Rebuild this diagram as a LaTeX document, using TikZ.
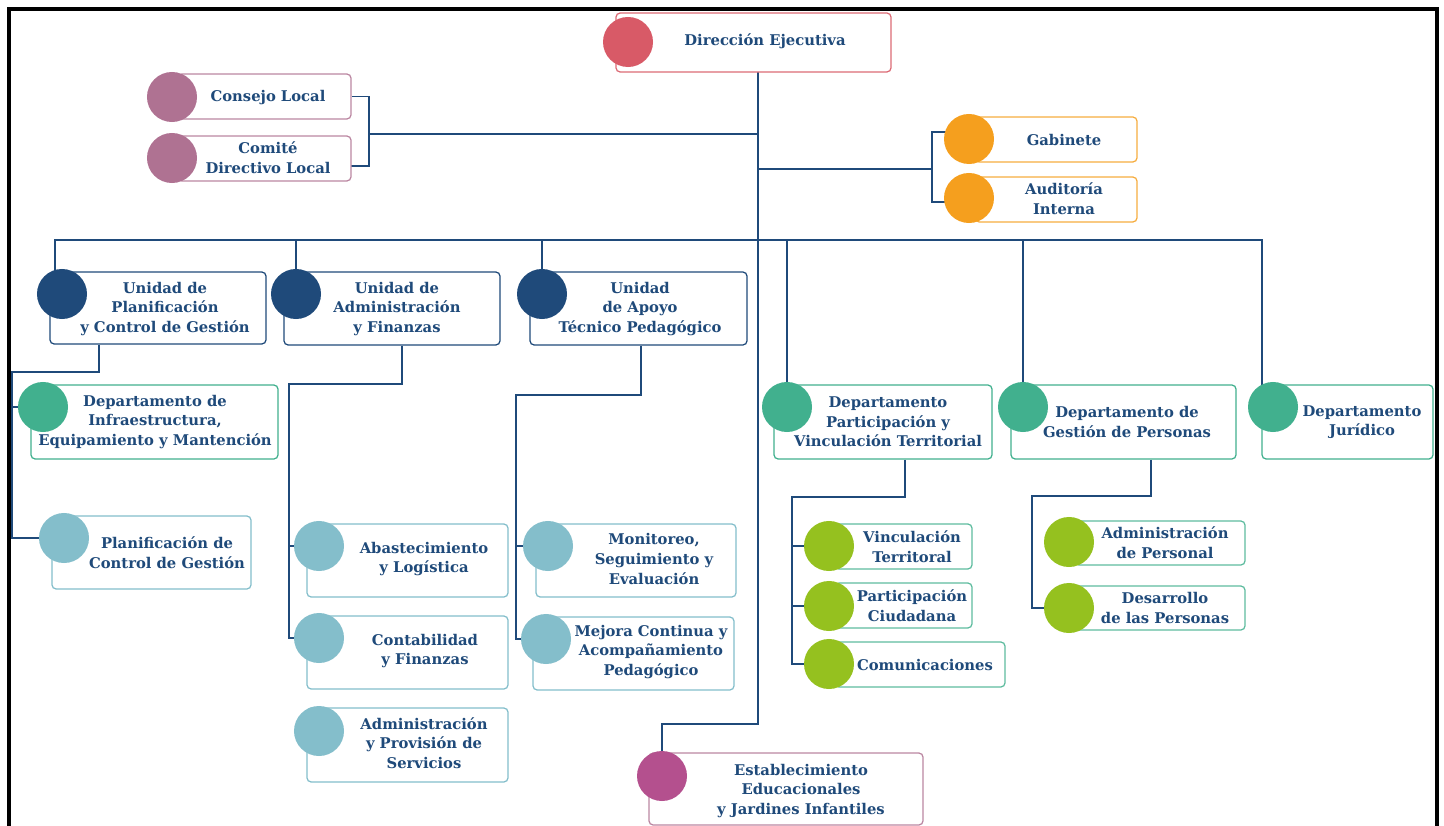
\documentclass[tikz,border=0pt]{standalone}
\usepackage{fontspec}
\setmainfont{DejaVu Serif}
\usetikzlibrary{backgrounds}

\definecolor{navy}{HTML}{1F4A7A}
\definecolor{rojo}{HTML}{D85A67}
\definecolor{malva}{HTML}{AF7292}
\definecolor{naranja}{HTML}{F59F1E}
\definecolor{verde}{HTML}{41B08E}
\definecolor{celeste}{HTML}{84BECB}
\definecolor{lima}{HTML}{95C11F}
\definecolor{fucsia}{HTML}{B4508E}

\tikzset{
  link/.style={draw=navy,line width=1.3pt},
  unit/.style={draw=#1,fill=white,rounded corners=3pt,line width=0.9pt,inner sep=0pt},
  dot/.style={circle,fill=#1,minimum size=1.25cm,inner sep=0pt},
  txt/.style={text=navy,align=center,inner sep=0pt,font=\fontsize{10.5}{14}\selectfont\bfseries}
}

\begin{document}
\begin{tikzpicture}[x=0.025cm,y=-0.025cm]
\useasboundingbox (0,0) rectangle (1444,826);

% frame
\draw [black,line width=2.8pt] (8.7,826) -- (8.7,9.2) -- (1437,9.2) -- (1437,826);

% boxes
\node (dir) [unit=rojo!90,minimum width=6.875cm,minimum height=1.475cm] at (753.5,42.5) {};
\node (cons) [unit=malva!85,minimum width=4.325cm,minimum height=1.125cm] at (264.5,96.5) {};
\node (comi) [unit=malva!85,minimum width=4.325cm,minimum height=1.125cm] at (264.5,158.5) {};
\node (gab) [unit=naranja!85,minimum width=4.05cm,minimum height=1.125cm] at (1056,139.5) {};
\node (aud) [unit=naranja!85,minimum width=4.05cm,minimum height=1.125cm] at (1056,199.5) {};
\node (upc) [unit=navy,minimum width=5.4cm,minimum height=1.8cm] at (158,308) {};
\node (uaf) [unit=navy,minimum width=5.4cm,minimum height=1.825cm] at (392,308.5) {};
\node (uatp) [unit=navy,minimum width=5.425cm,minimum height=1.825cm] at (638.5,308.5) {};
\node (dinf) [unit=verde,minimum width=6.175cm,minimum height=1.85cm] at (154.5,422) {};
\node (dpvt) [unit=verde,minimum width=5.45cm,minimum height=1.85cm] at (883,422) {};
\node (dgp) [unit=verde,minimum width=5.625cm,minimum height=1.85cm] at (1123.5,422) {};
\node (djur) [unit=verde,minimum width=4.275cm,minimum height=1.85cm] at (1347.5,422) {};
\node (pcg) [unit=celeste,minimum width=4.975cm,minimum height=1.825cm] at (151.5,552.5) {};
\node (abas) [unit=celeste,minimum width=5.025cm,minimum height=1.825cm] at (407.5,560.5) {};
\node (cont) [unit=celeste,minimum width=5.025cm,minimum height=1.825cm] at (407.5,652.5) {};
\node (aprov) [unit=celeste,minimum width=5.025cm,minimum height=1.85cm] at (407.5,745) {};
\node (mon) [unit=celeste,minimum width=5cm,minimum height=1.825cm] at (636,560.5) {};
\node (mej) [unit=celeste,minimum width=5.025cm,minimum height=1.825cm] at (633.5,653.5) {};
\node (vin) [unit=verde!85,minimum width=3.425cm,minimum height=1.125cm] at (903.5,546.5) {};
\node (par) [unit=verde!85,minimum width=3.425cm,minimum height=1.125cm] at (903.5,605.5) {};
\node (com) [unit=verde!85,minimum width=4.25cm,minimum height=1.125cm] at (920,664.5) {};
\node (adp) [unit=verde!85,minimum width=4.25cm,minimum height=1.1cm] at (1160,543) {};
\node (dlp) [unit=verde!85,minimum width=4.25cm,minimum height=1.1cm] at (1160,608) {};
\node (est) [unit=malva!85,minimum width=6.85cm,minimum height=1.8cm] at (786,789) {};

% circles
\node (dirC) [dot=rojo] at (628,42) {};
\node (consC) [dot=malva] at (172,97) {};
\node (comiC) [dot=malva] at (172,158) {};
\node (gabC) [dot=naranja] at (969,139) {};
\node (audC) [dot=naranja] at (969,198) {};
\node (upcC) [dot=navy] at (62,294) {};
\node (uafC) [dot=navy] at (296,294) {};
\node (uatpC) [dot=navy] at (542,294) {};
\node (dinfC) [dot=verde] at (43,407) {};
\node (dpvtC) [dot=verde] at (787,407) {};
\node (dgpC) [dot=verde] at (1023,407) {};
\node (djurC) [dot=verde] at (1273,407) {};
\node (pcgC) [dot=celeste] at (64,538) {};
\node (abasC) [dot=celeste] at (319,546) {};
\node (contC) [dot=celeste] at (319,638) {};
\node (aprovC) [dot=celeste] at (319,731) {};
\node (monC) [dot=celeste] at (548,546) {};
\node (mejC) [dot=celeste] at (546,639) {};
\node (vinC) [dot=lima] at (829,546) {};
\node (parC) [dot=lima] at (829,606) {};
\node (comC) [dot=lima] at (829,664) {};
\node (adpC) [dot=lima] at (1069,542) {};
\node (dlpC) [dot=lima] at (1069,608) {};
\node (estC) [dot=fucsia] at (662,776) {};

% texts
\node (dirT) [txt] at (765,41) {Dirección Ejecutiva};
\node (consT) [txt] at (268,98) {Consejo Local};
\node (comiT) [txt] at (268,158) {Comité\\Directivo Local};
\node (gabT) [txt] at (1064,140) {Gabinete};
\node (audT) [txt] at (1064,199) {Auditoría\\Interna};
\node (upcT) [txt] at (165,309) {Unidad de\\Planificación\\y Control de Gestión};
\node (uafT) [txt] at (397,309) {Unidad de\\Administración\\y Finanzas};
\node (uatpT) [txt] at (640,309) {Unidad\\de Apoyo\\Técnico Pedagógico};
\node (dinfT) [txt] at (155,422) {Departamento de\\Infraestructura,\\Equipamiento y Mantención};
\node (dpvtT) [txt] at (888,422) {Departamento\\Participación y\\Vinculación Territorial};
\node (dgpT) [txt] at (1127,422) {Departamento de\\Gestión de Personas};
\node (djurT) [txt] at (1362,422) {Departamento\\Jurídico};
\node (pcgT) [txt] at (167,553) {Planificación de\\Control de Gestión};
\node (abasT) [txt] at (424,559) {Abastecimiento\\y Logística};
\node (contT) [txt] at (425,651) {Contabilidad\\y Finanzas};
\node (aprovT) [txt] at (424,743) {Administración\\y Provisión de\\Servicios};
\node (monT) [txt] at (654,559) {Monitoreo,\\Seguimiento y\\Evaluación};
\node (mejT) [txt] at (651,652) {Mejora Continua y\\Acompañamiento\\Pedagógico};
\node (vinT) [txt] at (912,547) {Vinculación\\Territoral};
\node (parT) [txt] at (912,606) {Participación\\Ciudadana};
\node (comT) [txt] at (925,665) {Comunicaciones};
\node (adpT) [txt] at (1165,543) {Administración\\de Personal};
\node (dlpT) [txt] at (1165,608) {Desarrollo\\de las Personas};
\node (estT) [txt] at (801,791) {Establecimiento\\Educacionales\\y Jardines Infantiles};

% connectors
\coordinate (spine) at (758,724);
\coordinate (cj) at (369,134);
\coordinate (gj) at (932,169);
\coordinate (busL) at (55,240);
\coordinate (busR) at (1262,240);
\begin{scope}[on background layer]
\draw [link] (spine |- dir) -- (spine) -| (estC);
\draw [link] (cons) -| (cj) |- ([yshift=-5.3pt]comi.center);
\draw [link] (cj) -- (cj -| spine);
\draw [link] ([yshift=5pt]gabC.center) -| (gj) |- ([yshift=-3pt]audC.center);
\draw [link] (gj) -- (gj -| spine);
\draw [link] (busL |- upcC) -- (busL) -- (busR) -- (busR |- djurC);
\foreach \n in {uafC,uatpC,dpvtC,dgpC}
  \draw [link] (\n |- busL) -- (\n);
\draw [link] (upc.south -| 99,0) |- (12,372) |- (pcgC);
\draw [link] (dinfC -| 12,0) -- (dinfC);
\draw [link] (uaf.south -| 402,0) |- (289,384) |- (contC);
\draw [link] (abasC -| 289,0) -- (abasC);
\draw [link] (uatp.south -| 641,0) |- (516,395) |- (mejC);
\draw [link] (monC -| 516,0) -- (monC);
\draw [link] (dpvt.south -| 905,0) |- (792,497) |- (comC);
\foreach \n in {vinC,parC}
  \draw [link] (\n -| 792,0) -- (\n);
\draw [link] (dgp.south -| 1151,0) |- (1032,496) |- (dlpC);
\end{scope}
\end{tikzpicture}
\end{document}
